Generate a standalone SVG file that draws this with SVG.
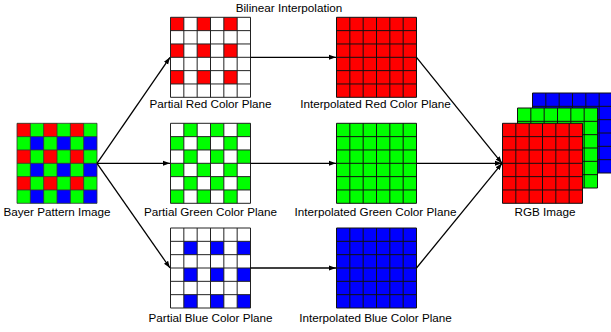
<svg xmlns="http://www.w3.org/2000/svg" xmlns:xlink="http://www.w3.org/1999/xlink" width="611" height="332" viewBox="0 0 611 332">
<style>
text{font-family:"Liberation Sans",Arial,sans-serif;font-size:11.7px;fill:#000;text-anchor:middle}
.gl{fill:none;stroke:#111;stroke-width:1}
.glp{fill:none;stroke:#222;stroke-width:1}
.glb{fill:none;stroke:#333;stroke-width:0.8}
.conn{fill:none;stroke:#000;stroke-width:1.3}
</style>
<defs>
<g id="row3"><rect x="0" y="0" width="13.333" height="13.333"/><rect x="26.667" y="0" width="13.333" height="13.333"/><rect x="53.333" y="0" width="13.333" height="13.333"/></g>
<g id="checkA"><use xlink:href="#row3" href="#row3"/><use xlink:href="#row3" href="#row3" y="26.667"/><use xlink:href="#row3" href="#row3" y="53.333"/></g>
<path id="gridp" d="M0,0H80V80H0Z M13.333,0V80 M26.667,0V80 M40,0V80 M53.333,0V80 M66.667,0V80 M0,13.333H80 M0,26.667H80 M0,40H80 M0,53.333H80 M0,66.667H80"/>
<marker id="ah" markerUnits="userSpaceOnUse" markerWidth="8" markerHeight="6" refX="7" refY="3" orient="auto"><path d="M0,0.5L7,3L0,5.5Z" fill="#000"/></marker>
</defs>

<text x="289" y="12">Bilinear Interpolation</text>

<g id="bayer" transform="translate(17,123.3)">
<rect width="80" height="80" fill="#0f0"/>
<use xlink:href="#checkA" href="#checkA" fill="#f00"/>
<use xlink:href="#checkA" href="#checkA" x="13.333" y="13.333" fill="#00f"/>
<use xlink:href="#gridp" href="#gridp" class="glb"/>
<text x="40" y="93">Bayer Pattern Image</text>
</g>

<g id="partial-red" transform="translate(170.5,17.3)">
<rect width="80" height="80" fill="#fff"/>
<use xlink:href="#checkA" href="#checkA" fill="#f00"/>
<use xlink:href="#gridp" href="#gridp" class="glp"/>
<text x="40" y="91">Partial Red Color Plane</text>
</g>

<g id="partial-green" transform="translate(170.5,123.3)">
<rect width="80" height="80" fill="#fff"/>
<use xlink:href="#checkA" href="#checkA" x="13.333" fill="#0f0"/>
<use xlink:href="#checkA" href="#checkA" y="13.333" fill="#0f0"/>
<use xlink:href="#gridp" href="#gridp" class="glp"/>
<text x="40" y="93">Partial Green Color Plane</text>
</g>

<g id="partial-blue" transform="translate(170.5,228)">
<rect width="80" height="80" fill="#fff"/>
<use xlink:href="#checkA" href="#checkA" x="13.333" y="13.333" fill="#00f"/>
<use xlink:href="#gridp" href="#gridp" class="glp"/>
<text x="40" y="94">Partial Blue Color Plane</text>
</g>

<g id="interp-red" transform="translate(336.5,17.3)">
<rect width="80" height="80" fill="#f00"/>
<use xlink:href="#gridp" href="#gridp" class="gl"/>
<text x="39" y="91">Interpolated Red Color Plane</text>
</g>

<g id="interp-green" transform="translate(336.5,123.3)">
<rect width="80" height="80" fill="#0f0"/>
<use xlink:href="#gridp" href="#gridp" class="gl"/>
<text x="39" y="93">Interpolated Green Color Plane</text>
</g>

<g id="interp-blue" transform="translate(336.5,228)">
<rect width="80" height="80" fill="#00f"/>
<use xlink:href="#gridp" href="#gridp" class="gl"/>
<text x="39" y="94">Interpolated Blue Color Plane</text>
</g>

<g id="rgb">
<g transform="translate(532.5,93)"><rect width="80" height="80" fill="#00f"/><use xlink:href="#gridp" href="#gridp" class="gl"/></g>
<g transform="translate(517.5,108)"><rect width="80" height="80" fill="#0f0"/><use xlink:href="#gridp" href="#gridp" class="gl"/></g>
<g transform="translate(502.5,123.3)"><rect width="80" height="80" fill="#f00"/><use xlink:href="#gridp" href="#gridp" class="gl"/></g>
<text x="545" y="216.3">RGB Image</text>
</g>

<g id="connectors" class="conn">
<path class="conn" d="M97,163.3L170,57.3" marker-end="url(#ah)"/>
<path class="conn" d="M97,163.3H170" marker-end="url(#ah)"/>
<path class="conn" d="M97,163.3L170,268" marker-end="url(#ah)"/>
<path class="conn" d="M250.5,57.3H336" marker-end="url(#ah)"/>
<path class="conn" d="M250.5,163.3H336" marker-end="url(#ah)"/>
<path class="conn" d="M250.5,268H336" marker-end="url(#ah)"/>
<path class="conn" d="M416.5,57.3L502,163.3" marker-end="url(#ah)"/>
<path class="conn" d="M416.5,163.3H502" marker-end="url(#ah)"/>
<path class="conn" d="M416.5,268L502,163.3" marker-end="url(#ah)"/>
</g>
</svg>
